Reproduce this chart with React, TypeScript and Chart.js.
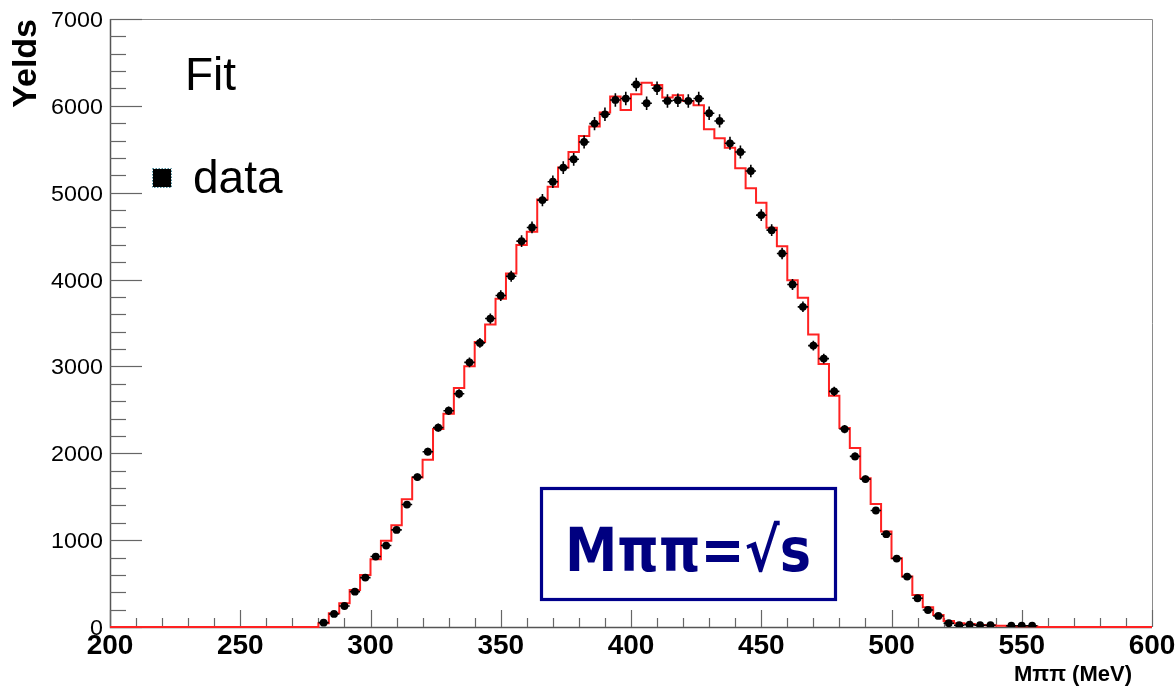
import React, { useEffect, useRef } from 'react';
import { Chart, registerables } from 'chart.js';
Chart.register(...registerables);

// ---- Data ----
const binStart = 280; // MeV, left edge of first bin
const binWidth = 4; // MeV
const dataValues: (number | null)[] = [
  50, 150, 242, 407, 569, 811, 938, 1118, 1410, 1726, 2018, 2295, 2490, 2686, 3047, 3271, 3551, 3816,
  4039, 4443, 4600, 4915, 5127, 5289, 5385, 5584, 5796, 5903, 6068, 6084, 6246, 6030, 6203, 6057, 6065,
  6057, 6084, 5915, 5826, 5569, 5469, 5250, 4742, 4569, 4300, 3943, 3686, 3240, 3090, 2713, 2279, 1964,
  1703, 1341, 1069, 788, 580, 331, 196, 127, 43, 20, 27, 20, 20, null, 15, 15, 15,
];
const fitValues: number[] = [
  43, 158, 273, 427, 600, 780, 992, 1172, 1472, 1722, 1925, 2279, 2456, 2752, 3001, 3282, 3482, 3778,
  4070, 4397, 4551, 4923, 5070, 5289, 5469, 5653, 5761, 5923, 6107, 5953, 6134, 6265, 6241, 6096, 6122,
  6057, 6007, 5730, 5627, 5519, 5281, 5050, 4885, 4597, 4385, 3993, 3790, 3367, 3029, 2663, 2291, 2060,
  1714, 1415, 1099, 792, 580, 369, 227, 138, 69, 43, 35, 23, 20, 15, 12, 10, 8,
];
const xMin = 200;
const xMax = 600;
const yMin = 0;
const yMax = 7000;
const xTickLabels = [200, 250, 300, 350, 400, 450, 500, 550, 600];
const yTickLabels = [0, 1000, 2000, 3000, 4000, 5000, 6000, 7000];
const xMinorStep = 10;
const yMinorStep = 200;
const xTitle = 'Mππ (MeV)';
const yTitle = 'Yelds';
const legendFit = 'Fit';
const legendData = 'data';
const boxText = 'Mππ=√s';

const axesPlugin = {
  id: 'rootAxes',
  beforeDatasetsDraw(chart: any) {
    const { ctx, chartArea: a, scales } = chart;
    const xs = scales.x;
    const ys = scales.y;
    ctx.save();
    // frame
    ctx.strokeStyle = '#8a8a8a';
    ctx.lineWidth = 1;
    ctx.beginPath();
    ctx.moveTo(a.left, a.top + 0.5);
    ctx.lineTo(a.right + 0.5, a.top + 0.5);
    ctx.lineTo(a.right + 0.5, a.bottom);
    ctx.stroke();
    ctx.strokeStyle = '#555';
    ctx.lineWidth = 1.5;
    ctx.beginPath();
    ctx.moveTo(a.left + 0.5, a.top);
    ctx.lineTo(a.left + 0.5, a.bottom + 0.5);
    ctx.lineTo(a.right, a.bottom + 0.5);
    ctx.stroke();
    // y ticks
    ctx.strokeStyle = '#666';
    ctx.lineWidth = 1.2;
    for (let v = yMin; v <= yMax; v += yMinorStep) {
      const y = Math.round(ys.getPixelForValue(v)) + 0.5;
      const major = v % 1000 === 0;
      ctx.beginPath();
      ctx.moveTo(a.left, y);
      ctx.lineTo(a.left + (major ? 32 : 16), y);
      ctx.stroke();
    }
    for (let v = xMin; v <= xMax; v += xMinorStep) {
      const x = Math.round(xs.getPixelForValue(v)) + 0.5;
      const major = v % 50 === 0;
      ctx.beginPath();
      ctx.moveTo(x, a.bottom);
      ctx.lineTo(x, a.bottom - (major ? 17 : 9));
      ctx.stroke();
    }
    // labels
    ctx.fillStyle = '#000';
    ctx.font = 'bold 28px "Liberation Sans", Arial, sans-serif';
    ctx.textAlign = 'center';
    ctx.textBaseline = 'alphabetic';
    xTickLabels.forEach((v) => {
      ctx.fillText(String(v), xs.getPixelForValue(v), 654);
    });
    ctx.font = '22px "Liberation Sans", Arial, sans-serif';
    ctx.textAlign = 'right';
    yTickLabels.forEach((v) => {
      const y = ys.getPixelForValue(v);
      ctx.save();
      ctx.translate(103, y + 8);
      ctx.scale(1.06, 1);
      ctx.fillText(String(v), 0, 0);
      ctx.restore();
    });
    // axis titles
    ctx.font = 'bold 22px "Liberation Sans", Arial, sans-serif';
    ctx.textAlign = 'right';
    ctx.fillText(xTitle, 1132, 681);
    ctx.save();
    ctx.translate(36, a.top);
    ctx.rotate(-Math.PI / 2);
    ctx.font = 'bold 34px "Liberation Sans", Arial, sans-serif';
    ctx.textAlign = 'right';
    ctx.fillText(yTitle, 0, 0);
    ctx.restore();
    ctx.restore();
  },
};

const errorPlugin = {
  id: 'errBars',
  afterDatasetsDraw(chart: any) {
    const { ctx, scales } = chart;
    const meta = chart.getDatasetMeta(1);
    const ds = chart.data.datasets[1].data as any[];
    ctx.save();
    ctx.strokeStyle = '#000';
    ctx.lineWidth = 1.6;
    meta.data.forEach((el: any, i: number) => {
      const p = ds[i];
      const e = Math.sqrt(p.y);
      const y1 = scales.y.getPixelForValue(p.y - e);
      const y2 = scales.y.getPixelForValue(p.y + e);
      const x1 = scales.x.getPixelForValue(p.x - binWidth / 2);
      const x2 = scales.x.getPixelForValue(p.x + binWidth / 2);
      ctx.beginPath();
      ctx.moveTo(el.x, y1);
      ctx.lineTo(el.x, y2);
      ctx.moveTo(x1, el.y);
      ctx.lineTo(x2, el.y);
      ctx.stroke();
    });
    ctx.restore();
  },
};

const decorPlugin = {
  id: 'decor',
  afterDraw(chart: any) {
    const { ctx } = chart;
    ctx.save();
    // legend
    ctx.fillStyle = '#000';
    ctx.font = '46px "Liberation Sans", Arial, sans-serif';
    ctx.textAlign = 'left';
    ctx.textBaseline = 'alphabetic';
    ctx.fillText(legendFit, 185, 90);
    ctx.fillText(legendData, 193, 193);
    ctx.fillRect(153, 169, 18, 18);
    ctx.strokeStyle = '#4a8a9a';
    ctx.lineWidth = 1;
    ctx.setLineDash([1.5, 1.5]);
    ctx.strokeRect(152.5, 168.5, 19, 19);
    ctx.setLineDash([]);
    // annotation box
    ctx.fillStyle = '#fff';
    ctx.fillRect(541, 488, 295, 112);
    ctx.strokeStyle = '#00008b';
    ctx.lineWidth = 3.2;
    ctx.strokeRect(541.5, 488.5, 294, 111);
    ctx.fillStyle = '#000080';
    ctx.font = 'bold 60px "DejaVu Sans", "Liberation Sans", sans-serif';
    ctx.textAlign = 'center';
    ctx.fillText(boxText, 688, 571, 246);
    ctx.restore();
  },
};

export default function App() {
  const ref = useRef<HTMLCanvasElement>(null);
  useEffect(() => {
    const canvas = ref.current;
    if (!canvas) return;
    const points = dataValues
      .map((v, i) => (v == null ? null : { x: binStart + binWidth * (i + 0.5), y: v }))
      .filter((p) => p !== null) as { x: number; y: number }[];
    const fitPts = [
      { x: xMin, y: 0 },
      ...fitValues.map((v, i) => ({ x: binStart + binWidth * i, y: v })),
      { x: binStart + binWidth * fitValues.length, y: 0 },
      { x: xMax, y: 0 },
    ];
    const chart = new Chart(canvas, {
      type: 'scatter',
      data: {
        datasets: [
          {
            type: 'line',
            data: fitPts,
            borderColor: '#ff2222',
            borderWidth: 2,
            pointRadius: 0,
            stepped: true,
            fill: false,
            order: 2,
            clip: 4,
          } as any,
          {
            type: 'scatter',
            data: points,
            backgroundColor: '#000',
            borderColor: '#000',
            pointRadius: 3.9,
            borderWidth: 0,
            order: 1,
          } as any,
        ],
      },
      options: {
        responsive: false,
        animation: false,
        events: [],
        layout: { padding: { left: 0, top: 19, right: 24, bottom: 0 } },
        plugins: { legend: { display: false }, tooltip: { enabled: false } },
        scales: {
          x: {
            type: 'linear',
            min: xMin,
            max: xMax,
            grid: { display: false },
            border: { display: false },
            ticks: { display: false },
            afterFit: (s: any) => {
              s.height = 62;
            },
          },
          y: {
            type: 'linear',
            min: yMin,
            max: yMax,
            grid: { display: false },
            border: { display: false },
            ticks: { display: false },
            afterFit: (s: any) => {
              s.width = 110;
            },
          },
        },
      } as any,
      plugins: [axesPlugin, errorPlugin, decorPlugin],
    });
    return () => chart.destroy();
  }, []);
  return (
    <div style={{ position: 'fixed', left: 0, top: 0, width: 1176, height: 689, background: '#fff' }}>
      <canvas ref={ref} width={1176} height={689} style={{ display: 'block' }} />
    </div>
  );
}
